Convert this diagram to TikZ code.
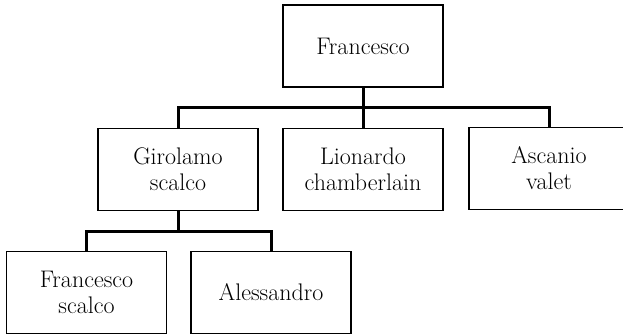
\documentclass[tikz,border=0pt]{standalone}
\usepackage{tikz}
\usepackage{xcolor}

\begin{document}
\begin{tikzpicture}[x=1pt, y=-1pt,
    person/.style={draw, line width=1.6pt, minimum width=160pt, minimum height=82pt,
        align=center, inner sep=0pt, font=\fontsize{24}{26}\selectfont},
    link/.style={line width=3pt}]
    \useasboundingbox (0,0) rectangle (623,335);
    % Father
    \node[person] (fra) at (363,46) {Francesco};
    % Sons
    \node[person] (gir) at (178,169.5) {Girolamo\\scalco};
    \node[person] (lio) at (363,169.5) {Lionardo\\chamberlain};
    \node[person] (asc) at (549,168.5) {Ascanio\\valet};
    % Grandsons
    \node[person] (fsc) at (86.5,292.5) {Francesco\\scalco};
    \node[person] (ale) at (271,292.5) {Alessandro};
    % Connectors
    \coordinate (busA) at (363,107);
    \coordinate (busB) at (178,231);
    \draw[link] (fra.south) -- (busA);
    \draw[link] (busA) -- (lio.north);
    \draw[link] (gir.north) |- (busA) -| (asc.north);
    \draw[link] (gir.south) -- (busB);
    \draw[link] (fsc.north) |- (busB) -| (ale.north);
\end{tikzpicture}
\end{document}
